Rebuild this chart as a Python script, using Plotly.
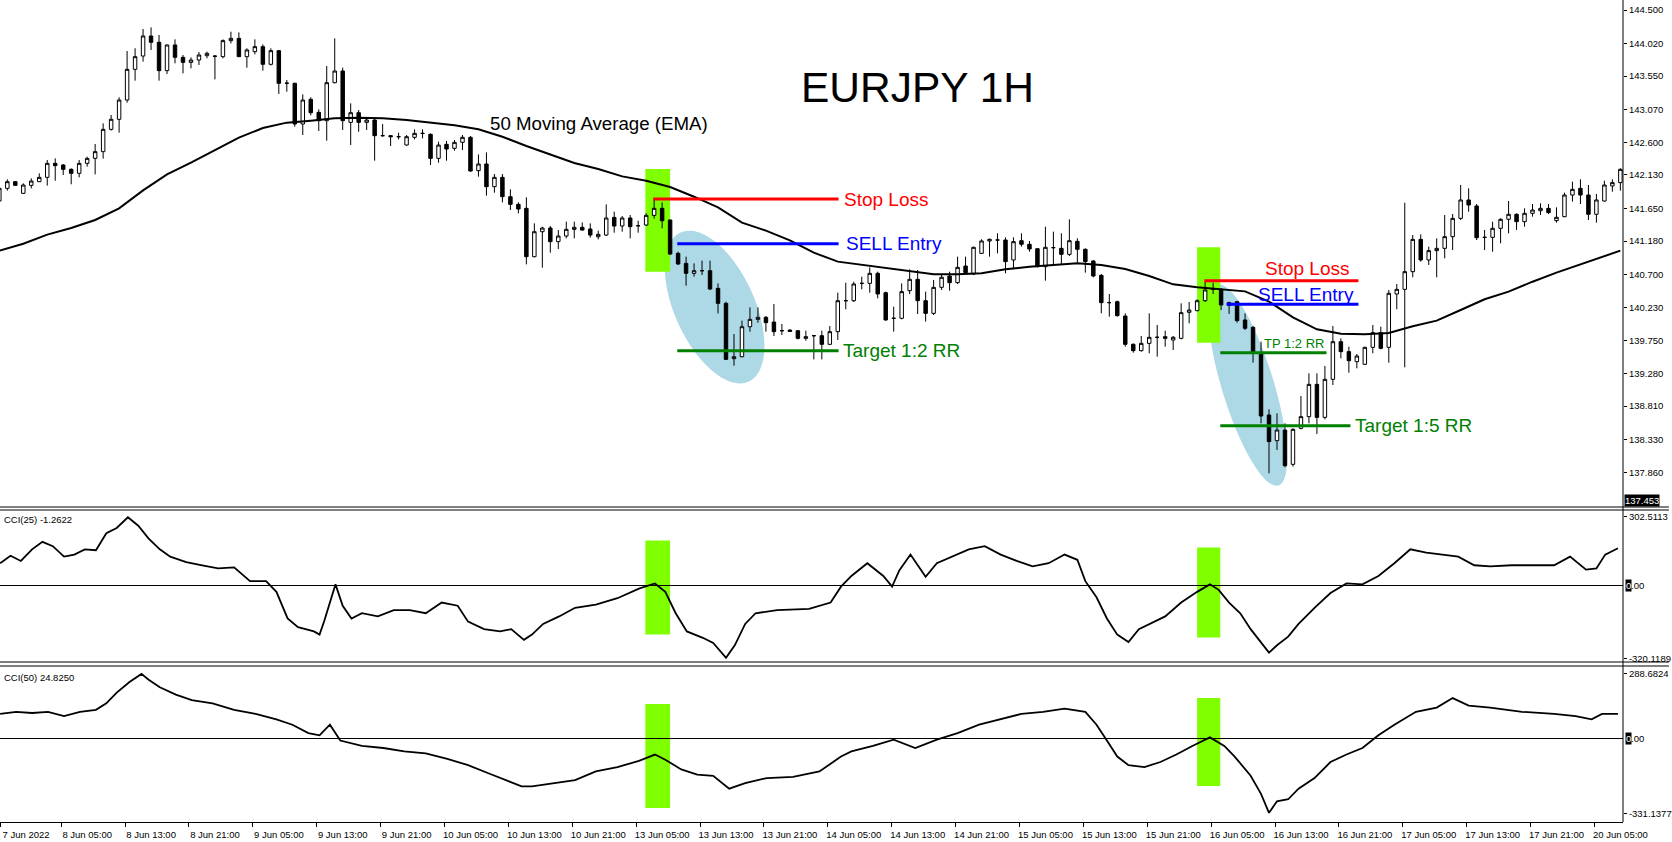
"""EURJPY 1H candles with a 50 EMA and two CCI panes (MT4 look)."""
import math

import plotly.graph_objects as go

# ---------------------------------------------------------------- data
# one candle per hour, index 0 = 7 Jun 2022 21:00
opens = [
    141.756, 141.938, 142.034, 141.866, 141.981, 142.034, 142.096, 142.297, 142.273, 142.211,
    142.154, 142.297, 142.369, 142.465, 142.786, 142.930, 143.207, 143.648, 143.839, 144.127,
    144.036, 143.629, 143.998, 143.820, 143.748, 143.782, 143.844, 143.839, 143.830, 144.060,
    144.093, 143.830, 143.902, 143.974, 143.720, 143.916, 143.447, 143.447, 142.863, 143.217,
    143.030, 142.910, 143.456, 143.624, 142.886, 143.025, 142.886, 142.920, 142.695, 142.695,
    142.680, 142.561, 142.671, 142.728, 142.714, 142.369, 142.570, 142.513, 142.599, 142.671,
    142.192, 142.288, 141.962, 142.096, 141.818, 141.708, 141.651, 140.956, 141.315, 141.368,
    141.172, 141.253, 141.349, 141.378, 141.354, 141.243, 141.267, 141.521, 141.397, 141.512,
    141.401, 141.411, 141.550, 141.651, 141.483, 141.004, 140.860, 140.717, 140.755, 140.755,
    140.501, 140.286, 139.491, 139.519, 139.950, 140.056, 140.085, 140.017, 139.893, 139.902,
    139.893, 139.783, 139.821, 139.821, 139.697, 139.879, 140.324, 140.324, 140.573, 140.573,
    140.717, 140.439, 140.071, 140.071, 140.468, 140.631, 140.324, 140.142, 140.516, 140.679,
    140.583, 140.822, 140.708, 141.004, 141.182, 141.196, 141.196, 140.909, 141.186, 141.134,
    141.071, 140.813, 141.086, 141.076, 140.990, 141.177, 141.062, 140.894, 140.688, 140.296,
    140.310, 140.104, 139.697, 139.606, 139.711, 139.798, 139.807, 139.759, 139.783, 140.157,
    140.181, 140.324, 140.487, 140.487, 140.257, 140.310, 140.047, 139.941, 139.577, 138.682,
    138.313, 138.466, 137.973, 138.490, 138.658, 139.122, 138.648, 139.194, 139.735, 139.592,
    139.448, 139.410, 139.654, 139.865, 139.654, 140.420, 140.487, 140.741, 141.205, 140.909,
    141.043, 141.076, 141.244, 141.507, 141.771, 141.684, 141.234, 141.234, 141.364, 141.493,
    141.565, 141.459, 141.579, 141.617, 141.651, 141.474, 141.531, 141.842, 141.938, 141.842,
    141.565, 141.756, 141.972, 142.020,
]
highs = [
    141.962, 142.067, 142.043, 142.010, 142.082, 142.154, 142.345, 142.369, 142.288, 142.225,
    142.345, 142.393, 142.575, 142.872, 142.992, 143.246, 143.911, 143.950, 144.227, 144.251,
    144.141, 144.003, 144.079, 143.854, 143.820, 143.897, 143.902, 143.854, 144.079, 144.189,
    144.179, 143.950, 144.079, 144.007, 143.950, 143.926, 143.495, 143.456, 143.289, 143.246,
    143.073, 143.696, 144.093, 143.672, 143.159, 143.064, 142.958, 142.958, 142.863, 142.704,
    142.738, 142.704, 142.786, 142.786, 142.728, 142.608, 142.618, 142.632, 142.704, 142.690,
    142.426, 142.455, 142.144, 142.144, 141.924, 141.737, 141.809, 141.435, 141.387, 141.397,
    141.339, 141.459, 141.459, 141.449, 141.435, 141.330, 141.708, 141.603, 141.540, 141.555,
    141.473, 141.579, 141.794, 141.737, 141.493, 141.028, 140.956, 140.860, 140.899, 140.899,
    140.573, 140.310, 139.845, 140.037, 140.228, 140.228, 140.104, 140.276, 139.989, 139.912,
    139.902, 139.893, 139.831, 139.893, 139.960, 140.439, 140.583, 140.597, 140.669, 140.803,
    140.741, 140.454, 140.238, 140.573, 140.775, 140.765, 140.454, 140.621, 140.693, 140.741,
    140.957, 140.957, 141.100, 141.206, 141.215, 141.292, 141.234, 141.234, 141.292, 141.182,
    141.076, 141.388, 141.316, 141.292, 141.493, 141.220, 141.076, 140.909, 140.708, 140.420,
    140.324, 140.142, 139.711, 139.817, 140.142, 139.975, 139.893, 139.817, 140.286, 140.305,
    140.344, 140.597, 140.583, 140.501, 140.310, 140.320, 140.142, 139.960, 139.735, 138.763,
    138.706, 138.562, 138.490, 138.955, 139.280, 139.280, 139.386, 139.960, 139.783, 139.663,
    139.558, 139.663, 139.975, 139.951, 140.478, 140.564, 141.732, 141.268, 141.277, 141.100,
    141.220, 141.555, 141.569, 141.986, 141.938, 141.713, 141.340, 141.459, 141.507, 141.756,
    141.579, 141.651, 141.713, 141.723, 141.713, 141.665, 141.876, 142.034, 142.068, 141.986,
    141.857, 142.048, 142.068, 142.226,
]
lows = [
    141.747, 141.905, 141.977, 141.857, 141.938, 142.029, 141.977, 142.048, 142.130, 141.996,
    142.096, 142.249, 142.139, 142.364, 142.767, 142.738, 143.169, 143.485, 143.758, 143.926,
    143.485, 143.581, 143.734, 143.590, 143.662, 143.710, 143.806, 143.504, 143.806, 144.021,
    143.825, 143.672, 143.863, 143.629, 143.705, 143.294, 143.327, 142.824, 142.704, 142.987,
    142.762, 142.623, 143.447, 142.776, 142.561, 142.752, 142.776, 142.336, 142.680, 142.546,
    142.642, 142.551, 142.642, 142.656, 142.273, 142.307, 142.335, 142.479, 142.489, 142.177,
    142.106, 141.833, 141.876, 141.737, 141.627, 141.579, 140.846, 140.947, 140.798, 141.014,
    141.066, 141.220, 141.220, 141.330, 141.229, 141.205, 141.253, 141.301, 141.315, 141.220,
    141.301, 141.397, 141.502, 141.363, 140.980, 140.836, 140.540, 140.669, 140.693, 140.477,
    140.142, 139.472, 139.390, 139.510, 139.879, 140.008, 139.879, 139.816, 139.831, 139.879,
    139.768, 139.749, 139.481, 139.481, 139.687, 139.759, 140.200, 140.305, 140.487, 140.439,
    140.358, 140.037, 139.879, 140.056, 140.420, 140.133, 140.023, 140.118, 140.478, 140.468,
    140.564, 140.708, 140.693, 140.995, 140.957, 141.004, 140.717, 140.775, 141.100, 141.028,
    140.803, 140.612, 140.837, 140.837, 140.966, 140.870, 140.727, 140.660, 140.142, 140.095,
    140.095, 139.663, 139.577, 139.592, 139.568, 139.520, 139.663, 139.616, 139.769, 139.999,
    140.171, 140.305, 140.420, 140.190, 140.133, 140.008, 139.903, 139.434, 138.562, 137.844,
    138.179, 137.930, 137.940, 138.476, 138.562, 138.409, 138.619, 139.113, 139.496, 139.290,
    139.352, 139.400, 139.568, 139.625, 139.434, 140.200, 139.367, 140.660, 140.885, 140.837,
    140.660, 140.933, 141.052, 141.483, 141.603, 141.196, 141.052, 141.028, 141.148, 141.292,
    141.340, 141.387, 141.531, 141.555, 141.569, 141.445, 141.522, 141.747, 141.713, 141.483,
    141.445, 141.747, 141.890, 141.905,
]
closes = [
    141.938, 142.034, 141.981, 141.986, 142.043, 142.096, 142.297, 142.264, 142.211, 142.154,
    142.297, 142.369, 142.465, 142.786, 142.930, 143.207, 143.648, 143.830, 144.127, 144.036,
    143.629, 143.998, 143.820, 143.748, 143.782, 143.854, 143.878, 143.835, 144.060, 144.093,
    143.830, 143.926, 143.974, 143.720, 143.916, 143.447, 143.450, 142.863, 143.207, 143.025,
    142.910, 143.456, 143.624, 142.910, 143.025, 142.886, 142.920, 142.695, 142.695, 142.680,
    142.680, 142.680, 142.728, 142.728, 142.369, 142.560, 142.503, 142.599, 142.671, 142.187,
    142.288, 141.962, 142.096, 141.818, 141.708, 141.641, 140.956, 141.315, 141.368, 141.172,
    141.253, 141.349, 141.378, 141.339, 141.267, 141.277, 141.512, 141.397, 141.512, 141.387,
    141.401, 141.550, 141.651, 141.473, 140.994, 140.851, 140.717, 140.755, 140.755, 140.492,
    140.286, 139.481, 139.519, 139.950, 140.056, 140.085, 140.008, 139.879, 139.893, 139.883,
    139.783, 139.807, 139.821, 139.697, 139.879, 140.324, 140.324, 140.564, 140.573, 140.717,
    140.420, 140.047, 140.071, 140.454, 140.631, 140.324, 140.142, 140.516, 140.660, 140.583,
    140.803, 140.727, 141.091, 141.182, 141.206, 141.196, 140.885, 141.172, 141.134, 141.067,
    140.813, 141.091, 141.086, 140.990, 141.186, 141.062, 140.885, 140.679, 140.296, 140.296,
    140.109, 139.697, 139.606, 139.711, 139.798, 139.798, 139.783, 139.798, 140.152, 140.190,
    140.324, 140.478, 140.487, 140.262, 140.296, 140.037, 139.927, 139.568, 138.667, 138.299,
    138.466, 137.954, 138.476, 138.658, 139.122, 138.648, 139.194, 139.735, 139.592, 139.462,
    139.529, 139.654, 139.865, 139.640, 140.430, 140.487, 140.741, 141.205, 140.909, 141.043,
    141.076, 141.244, 141.507, 141.771, 141.699, 141.229, 141.234, 141.364, 141.493, 141.565,
    141.459, 141.579, 141.627, 141.651, 141.589, 141.522, 141.842, 141.924, 141.842, 141.565,
    141.771, 141.986, 142.020, 142.211,
]

# 50 EMA, read every third candle
ema_bar = [0, 3, 6, 9, 12, 15, 18, 21, 24, 27, 30, 33, 36, 39, 42, 45, 48, 51,
           54, 57, 60, 63, 66, 69, 72, 75, 78, 81, 84, 87, 90, 93, 96, 99, 102,
           105, 108, 111, 114, 117, 120, 123, 126, 129, 132, 135, 138, 141, 144,
           147, 150, 153, 156, 159, 162, 165, 168, 171, 174, 177, 180, 183, 186,
           189, 192, 195, 198, 201, 203]
ema_val = [141.043, 141.143, 141.273, 141.368, 141.483, 141.651, 141.909, 142.139,
           142.307, 142.484, 142.666, 142.805, 142.882, 142.910, 142.944, 142.953,
           142.944, 142.920,
           142.881, 142.843, 142.786, 142.680, 142.546, 142.422, 142.302, 142.216,
           142.110, 142.048, 141.957, 141.818, 141.665, 141.445, 141.330, 141.191,
           141.014,
           140.885, 140.837, 140.789, 140.741, 140.703, 140.703, 140.717, 140.775,
           140.813, 140.837, 140.861, 140.837, 140.779, 140.679, 140.559, 140.516,
           140.487,
           140.458, 140.310, 140.085, 139.913, 139.850, 139.841, 139.860, 139.956,
           140.037, 140.190, 140.344, 140.454, 140.597, 140.727, 140.846, 140.957,
           141.043]

cci25_bar = [0.1, 1.4, 2.7, 4.1, 5.4, 6.7, 8.1, 9.4, 10.7, 12.1, 13.4, 14.7, 16.1,
             17.4, 18.7, 20.1, 21.4, 23.4, 25.4, 27.4, 29.4, 31.4, 33.4, 34.7, 36.1,
             37.4, 39.4, 40.1, 40.7, 42.1, 43.0, 44.1, 45.4, 47.4, 49.4, 51.4, 53.4,
             55.4, 57.4, 58.7, 60.7, 62.7, 64.1, 65.7, 66.7, 68.1, 70.1, 72.1, 74.7,
             77.4, 80.1, 82.1, 83.4, 84.7, 86.1, 88.1, 89.4, 91.0, 92.1, 93.4, 94.7,
             97.4, 101.4, 104.1, 105.4, 106.7, 108.7, 110.7, 111.8, 112.7, 114.1,
             115.0, 116.0, 117.4, 119.4, 121.4, 123.4, 125.4, 127.4, 129.4, 131.4,
             133.4, 135.0, 136.0, 137.4, 138.7, 140.0, 141.4, 142.7, 144.0, 146.0,
             148.0, 150.0, 151.6, 152.7, 154.0, 155.4, 156.7, 158.0, 159.0, 160.0,
             161.4, 162.7, 164.7, 166.7, 168.7, 170.7, 172.7, 174.7, 176.7, 178.7,
             180.7, 182.7, 184.7, 186.7, 189.4, 192.0, 194.7, 196.7, 198.7, 200.0,
             201.1, 202.7]
cci25_val = [98, 131, 108, 159, 192, 173, 127, 136, 159, 155, 230, 253, 300,
             263, 206, 159, 127, 103, 89, 75, 80, 19, 19, -28, -145,
             -183, -202, -216, -155, 5, -89, -145, -122, -136, -108, -108, -122,
             -75, -89, -159, -192, -202, -192, -239, -216, -169, -136, -98, -84,
             -56, -14, 9, -28, -122, -202, -230, -253, -318, -263, -169, -122,
             -108, -103, -75, -5, 42, 98, 42, -5, 66, 136,
             89, 38, 98, 127, 159, 173, 136, 108, 84, 98,
             136, 113, 19, -52, -145, -216, -249, -192, -169, -136,
             -75, -28, 5, -19, -75, -122, -192, -249, -295, -263,
             -225, -169, -98, -33, 9, 5, 42, 98, 159, 145,
             136, 127, 89, 84, 89, 89, 89, 127, 70, 75,
             136, 164]

cci50_bar = [0.1, 2.1, 4.1, 6.1, 8.1, 10.1, 12.1, 13.4, 14.7, 16.3, 17.8, 18.7, 20.1,
             22.1, 24.1, 26.7, 29.4, 32.1, 34.7, 36.7, 38.7, 40.1, 41.4, 42.7, 45.4,
             48.1, 50.7, 53.4, 56.1, 58.7, 61.4, 63.4, 65.4, 66.7, 69.4, 72.1, 74.7,
             77.4, 80.1, 82.1, 83.4, 85.4, 87.4, 89.4, 91.4, 93.4, 96.1, 99.4, 102.7,
             105.4, 106.7, 109.4, 112.0, 114.7, 117.4, 120.0, 122.7, 125.4, 128.0,
             130.7, 133.4, 136.0, 137.4, 138.7, 140.0, 141.4, 143.4, 145.4, 147.4,
             149.4, 151.6, 153.4, 154.7, 156.7, 158.0, 159.0, 160.0, 161.4, 162.7,
             164.7, 166.7, 168.7, 170.7, 172.7, 174.7, 177.4, 180.0, 182.0, 184.0,
             186.7, 190.7, 194.7, 197.4, 199.4, 200.7, 202.7]
cci50_val = [109, 118, 113, 118, 99, 118, 127, 156, 203, 250, 286, 260, 227,
             194, 170, 156, 127, 109, 85, 61, 24, 14, 61, -9, -33,
             -42, -57, -66, -90, -118, -156, -184, -212, -212, -198, -184, -146,
             -127, -99, -71, -94, -137, -160, -165, -222, -198, -175, -170, -146,
             -80, -57, -33, -5, -42, -5, 24, 61, 85, 109,
             118, 132, 118, 61, -9, -80, -118, -127, -104, -71,
             -33, 5, -33, -80, -165, -245, -329, -278, -269, -222,
             -175, -104, -71, -42, 14, 61, 118, 137, 179, 146,
             137, 118, 109, 99, 85, 109, 109]

price_ticks = [144.500, 144.020, 143.550, 143.070, 142.600, 142.130, 141.650, 141.180,
               140.700, 140.230, 139.750, 139.280, 138.810, 138.330, 137.860]
time_tick_bars = [0, 8, 16, 24, 32, 40, 48, 56, 64, 72, 80, 88, 96, 104, 112, 120,
                  128, 136, 144, 152, 160, 168, 176, 184, 192, 200]
time_tick_text = ["7 Jun 2022", "8 Jun 05:00", "8 Jun 13:00", "8 Jun 21:00",
                  "9 Jun 05:00", "9 Jun 13:00", "9 Jun 21:00", "10 Jun 05:00",
                  "10 Jun 13:00", "10 Jun 21:00", "13 Jun 05:00", "13 Jun 13:00",
                  "13 Jun 21:00", "14 Jun 05:00", "14 Jun 13:00", "14 Jun 21:00",
                  "15 Jun 05:00", "15 Jun 13:00", "15 Jun 21:00", "16 Jun 05:00",
                  "16 Jun 13:00", "16 Jun 21:00", "17 Jun 05:00", "17 Jun 13:00",
                  "17 Jun 21:00", "20 Jun 05:00"]

assert len(opens) == len(highs) == len(lows) == len(closes)
assert len(ema_bar) == len(ema_val)
assert len(cci25_bar) == len(cci25_val)
assert len(cci50_bar) == len(cci50_val)

# ---------------------------------------------------------------- geometry
FONT = "Liberation Sans, Arial, sans-serif"
PLOT_W, PLOT_H = 1626, 822
X_RANGE = [0.084, 203.33]
PRICE_RANGE = [137.360, 144.644]
CCI25_RANGE = [-336.4, 332.0]
CCI50_RANGE = [-369.7, 321.0]
MAIN_BOTTOM_PX, CCI1_TOP_PX, CCI1_BOTTOM_PX, CCI2_TOP_PX = 507, 510, 662, 666
PX_PER_BAR = PLOT_W / (X_RANGE[1] - X_RANGE[0])
PX_PER_PRICE = MAIN_BOTTOM_PX / (PRICE_RANGE[1] - PRICE_RANGE[0])

LIME = "#7FFF00"
RED, BLUE, GREEN = "#FF0000", "#0000FF", "#008000"


def paper_y(px):
    return 1 - px / PLOT_H


def ellipse_path(cx, cy, a_px, b_px, tilt_deg, n=90):
    """Tilted ellipse drawn in screen pixels, expressed in data units."""
    t = math.radians(tilt_deg)
    pts = []
    for k in range(n):
        u = 2 * math.pi * k / n
        dx = a_px * math.cos(u) * math.cos(t) - b_px * math.sin(u) * math.sin(t)
        dy = a_px * math.cos(u) * math.sin(t) + b_px * math.sin(u) * math.cos(t)
        pts.append((cx + dx / PX_PER_BAR, cy - dy / PX_PER_PRICE))
    return "M " + " L ".join(f"{x:.3f},{y:.4f}" for x, y in pts) + " Z"


bars = list(range(len(opens)))

fig = go.Figure()
fig.add_candlestick(
    x=bars, open=opens, high=highs, low=lows, close=closes,
    increasing=dict(line=dict(color="black", width=1), fillcolor="white"),
    decreasing=dict(line=dict(color="black", width=1), fillcolor="black"),
    whiskerwidth=0, showlegend=False,
)
fig.add_scatter(x=ema_bar, y=ema_val, mode="lines", line=dict(color="black", width=2),
                showlegend=False)
fig.add_scatter(x=cci25_bar, y=cci25_val, yaxis="y2", mode="lines",
                line=dict(color="black", width=1.8), showlegend=False)
fig.add_scatter(x=cci50_bar, y=cci50_val, yaxis="y3", mode="lines",
                line=dict(color="black", width=1.8), showlegend=False)

shapes = []
# background highlights: ellipses first, lime bars drawn over them
shapes.append(dict(type="path", xref="x", yref="y", layer="below",
                   path=ellipse_path(89.58, 140.233, 82, 40, 65.4),
                   fillcolor="#ADD8E6", line=dict(width=0)))
shapes.append(dict(type="path", xref="x", yref="y", layer="below",
                   path=ellipse_path(156.33, 139.112, 105, 26, 73),
                   fillcolor="#ADD8E6", line=dict(width=0)))
for yref, y0, y1 in [("y", 140.740, 142.216), ("y2", -215, 198), ("y3", -308, 153)]:
    shapes.append(dict(type="rect", xref="x", yref=yref, x0=80.9, x1=84.0, y0=y0, y1=y1,
                       fillcolor=LIME, line=dict(width=0), layer="below"))
for yref, y0, y1 in [("y", 139.720, 141.091), ("y2", -229, 167), ("y3", -210, 179)]:
    shapes.append(dict(type="rect", xref="x", yref=yref, x0=150.0, x1=152.9, y0=y0, y1=y1,
                       fillcolor=LIME, line=dict(width=0), layer="below"))

# trade levels
levels = [
    (81.9, 105.1, 141.785, RED), (84.9, 105.1, 141.143, BLUE), (84.9, 105.1, 139.605, GREEN),
    (150.9, 170.2, 140.611, RED), (153.7, 170.2, 140.272, BLUE),
    (152.9, 166.2, 139.577, GREEN), (152.9, 169.2, 138.528, GREEN),
]
for x0, x1, y, c in levels:
    shapes.append(dict(type="line", xref="x", yref="y", x0=x0, x1=x1, y0=y, y1=y,
                       line=dict(color=c, width=3), layer="above"))

# zero lines of the CCI panes
for yref in ("y2", "y3"):
    shapes.append(dict(type="line", xref="paper", yref=yref, x0=0, x1=1, y0=0, y1=0,
                       line=dict(color="black", width=1)))
# pane separators and right frame
x_end = 1672 / PLOT_W
for px in (MAIN_BOTTOM_PX, CCI1_TOP_PX, CCI1_BOTTOM_PX, CCI2_TOP_PX):
    shapes.append(dict(type="line", xref="paper", yref="paper", x0=0, x1=x_end,
                       y0=paper_y(px), y1=paper_y(px), line=dict(color="black", width=1)))
shapes.append(dict(type="line", xref="paper", yref="paper", x0=1, x1=1, y0=0, y1=1,
                   line=dict(color="black", width=1)))

annotations = []


def label(text, x, y, color, size, xanchor="left", xref="x", yref="y", **kw):
    annotations.append(dict(text=text, x=x, y=y, xref=xref, yref=yref, xanchor=xanchor,
                            yanchor="middle", showarrow=False, borderpad=0,
                            font=dict(family=FONT, size=size, color=color), **kw))


label("EURJPY 1H", 114.96, 143.394, "black", 42.5, xanchor="center")
label("50 Moving Average (EMA)", 61.3, 142.872, "black", 18.7)
label("Stop Loss", 105.7, 141.785, RED, 19)
label("SELL Entry", 105.96, 141.143, BLUE, 19)
label("Target 1:2 RR", 105.5, 139.605, GREEN, 19)
label("Stop Loss", 169.3, 140.793, RED, 19, xanchor="right")
label("SELL Entry", 169.8, 140.420, BLUE, 19, xanchor="right")
label("TP 1:2 RR", 158.2, 139.716, GREEN, 13)
label("Target 1:5 RR", 169.6, 138.528, GREEN, 19)

label("CCI(25) -1.2622", 3 / PLOT_W, paper_y(519), "black", 9.5, xref="paper", yref="paper")
label("CCI(50) 24.8250", 3 / PLOT_W, paper_y(677), "black", 9.5, xref="paper", yref="paper")
label("137.453", 1 + 1.5 / PLOT_W, 137.453, "white", 9.5, xref="paper", bgcolor="black")
for yref in ("y2", "y3"):
    label("0", 1 + 2 / PLOT_W, 0, "white", 9.5, xref="paper", yref=yref, bgcolor="black")
    label(".00", 1 + 7.3 / PLOT_W, 0, "black", 9.5, xref="paper", yref=yref)

tick_font = dict(family=FONT, size=9.5, color="black")
yaxis_common = dict(side="right", anchor="x", showgrid=False, zeroline=False,
                    showline=False, ticks="outside", ticklen=3, tickcolor="black",
                    tickfont=tick_font, fixedrange=True)

fig.update_layout(
    width=1672, height=842,
    margin=dict(l=0, r=1672 - PLOT_W, t=0, b=842 - PLOT_H),
    paper_bgcolor="white", plot_bgcolor="white",
    showlegend=False, hovermode=False, boxgap=0.38,
    shapes=shapes, annotations=annotations,
    xaxis=dict(
        range=X_RANGE, anchor="y3", showgrid=False, zeroline=False,
        rangeslider=dict(visible=False),
        tickvals=[max(b - 0.25, 0.09) for b in time_tick_bars], ticktext=time_tick_text,
        ticks="outside", ticklen=4, tickcolor="black", tickfont=tick_font,
        ticklabelshift=26, showline=True, linecolor="black", linewidth=1,
        fixedrange=True,
    ),
    yaxis=dict(domain=[paper_y(MAIN_BOTTOM_PX), 1], range=PRICE_RANGE,
               tickvals=price_ticks, ticktext=[f"{v:.3f}" for v in price_ticks],
               **yaxis_common),
    yaxis2=dict(domain=[paper_y(CCI1_BOTTOM_PX), paper_y(CCI1_TOP_PX)], range=CCI25_RANGE,
                tickvals=[302.5113, -320.1189], ticktext=["302.5113", "-320.1189"],
                **yaxis_common),
    yaxis3=dict(domain=[0, paper_y(CCI2_TOP_PX)], range=CCI50_RANGE,
                tickvals=[288.6824, -331.1377], ticktext=["288.6824", "-331.1377"],
                **yaxis_common),
)

# the page body keeps the browser's default 8px margin otherwise
fig.write_html("out.html", config={"displayModeBar": False},
               post_script="document.body.style.margin='0';"
                           "document.body.style.overflow='hidden';")
